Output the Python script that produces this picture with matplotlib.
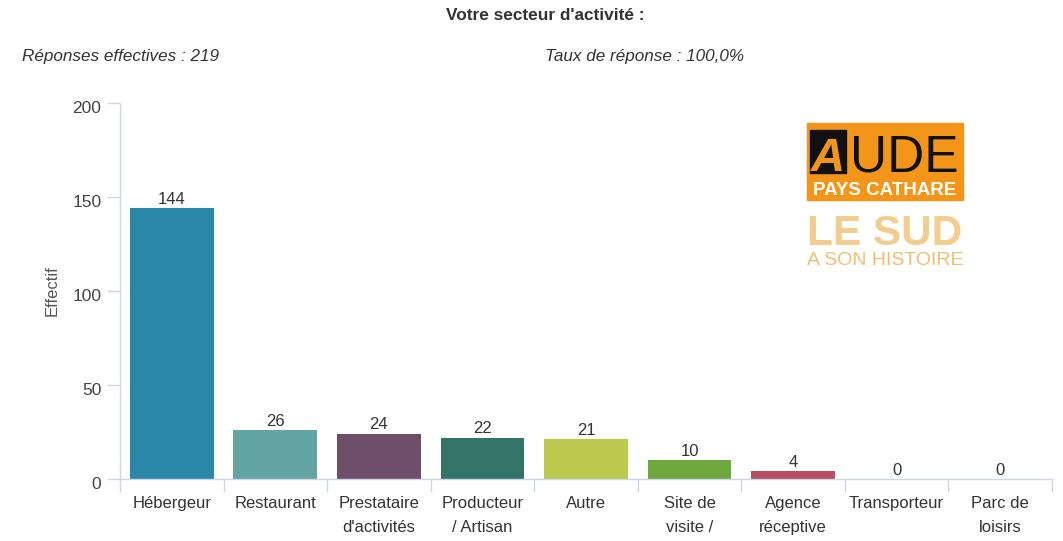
import matplotlib
matplotlib.use("Agg")
import matplotlib.pyplot as plt
from matplotlib.patches import Rectangle
from matplotlib.transforms import ScaledTranslation

plt.rcParams['font.family'] = ['Liberation Sans', 'DejaVu Sans']

categories = ["Hébergeur", "Restaurant", "Prestataire\nd'activités", "Producteur\n/ Artisan",
              "Autre", "Site de\nvisite /", "Agence\nréceptive", "Transporteur", "Parc de\nloisirs"]
values = [144, 26, 24, 22, 21, 10, 4, 0, 0]
colors = ["#2a87a8", "#63a5a2", "#6f4e6a", "#327467", "#bccb4f",
          "#6ea83f", "#b64e64", "#8085e9", "#f15c80"]
yticks = [0, 50, 100, 150, 200]

W, H = 1063, 541
fig = plt.figure(figsize=(W / 100, H / 100), dpi=100)

def fx(px):
    return px / W

def fy(py):
    return 1 - py / H

ax = fig.add_axes([fx(120), fy(479), fx(1052) - fx(120), fy(102.7) - fy(479)])
x = list(range(len(categories)))
ax.bar(x, values, width=0.81, color=colors)
for xi, v in zip(x, values):
    ax.annotate(str(v), (xi, v), xytext=(0, 1), textcoords='offset points',
                ha='center', va='bottom', fontsize=12, color='#333333')

ax.set_xlim(-0.5, len(categories) - 0.5)
ax.set_ylim(0, 200)
ax.set_yticks(yticks)
ax.set_xticks(x)
ax.set_xticklabels(categories, fontsize=12, color='#333333', linespacing=1.72)
ax.set_xticks([i - 0.5 for i in range(len(categories) + 1)], minor=True)
ax.tick_params(axis='x', which='major', length=0, pad=12.5)
ax.tick_params(axis='x', which='minor', length=9.4, color='#ccd6eb', width=1)
ax.tick_params(axis='y', length=9.4, color='#ccd6eb', width=1, labelsize=12.5,
               labelcolor='#444444', pad=4)
# shift y tick labels down a little
shift = ScaledTranslation(0, -4 / 100, fig.dpi_scale_trans)
for lab in ax.get_yticklabels():
    lab.set_transform(lab.get_transform() + shift)
for s in ['top', 'right']:
    ax.spines[s].set_visible(False)
for s in ['left', 'bottom']:
    ax.spines[s].set_color('#ccd6eb')
    ax.spines[s].set_linewidth(1)
ax.set_ylabel("Effectif", fontsize=12, color='#555555', labelpad=9)

fig.text(fx(545), fy(15), "Votre secteur d'activité :", ha='center', va='center',
         fontsize=12.4, fontweight='bold', color='#333333')
fig.text(fx(22), fy(56), "Réponses effectives : 219", ha='left', va='center',
         fontsize=12.3, style='italic', color='#333333')
fig.text(fx(545), fy(56), "Taux de réponse : 100,0%", ha='left', va='center',
         fontsize=12.3, style='italic', color='#333333')

# logo
fig.patches.append(Rectangle((fx(807), fy(200)), fx(963) - fx(807), fy(123) - fy(200),
                             transform=fig.transFigure, color='#f39519'))
fig.patches.append(Rectangle((fx(810), fy(173)), fx(846) - fx(810), fy(130) - fy(173),
                             transform=fig.transFigure, color='#111111'))
fig.text(fx(828), fy(171), "A", ha='center', va='baseline', fontsize=34,
         fontweight='bold', style='italic', color='#f39519')
fig.text(fx(904), fy(171), "UDE", ha='center', va='baseline', fontsize=37,
         family=['Liberation Sans Narrow', 'Liberation Sans'], color='#111111')
fig.text(fx(885), fy(195), "PAYS CATHARE", ha='center', va='baseline', fontsize=13.5,
         fontweight='bold', color='white')
fig.text(fx(885), fy(245), "LE SUD", ha='center', va='baseline', fontsize=30.5,
         fontweight='bold', color='#f3cd90')
fig.text(fx(885), fy(265), "A SON HISTOIRE", ha='center', va='baseline', fontsize=14,
         color='#f0bd72')

fig.savefig("out.png", dpi=100)
